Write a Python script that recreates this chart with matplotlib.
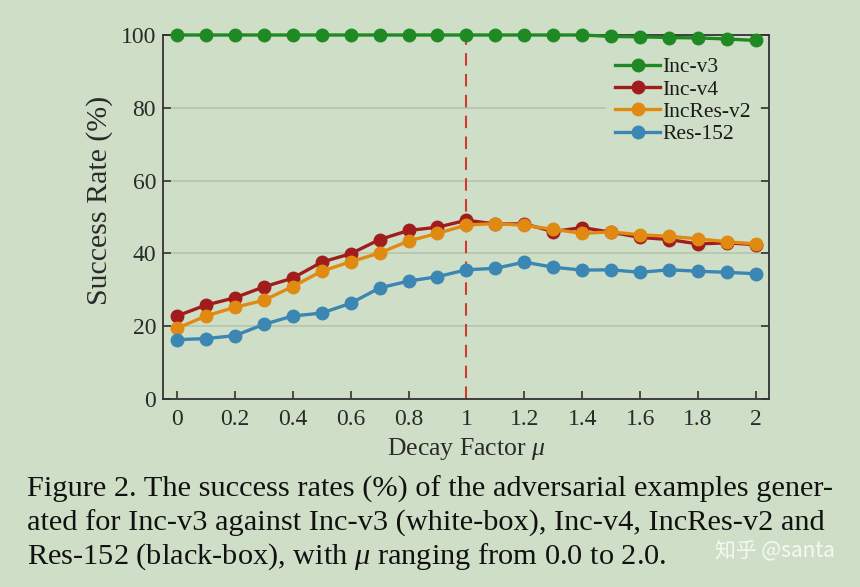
import matplotlib
matplotlib.use("Agg")
import matplotlib.pyplot as plt
import numpy as np

mu = [0.0, 0.1, 0.2, 0.3, 0.4, 0.5, 0.6, 0.7, 0.8, 0.9, 1.0,
      1.1, 1.2, 1.3, 1.4, 1.5, 1.6, 1.7, 1.8, 1.9, 2.0]
inc_v3 = [100.0, 100.0, 100.0, 100.0, 100.0, 100.0, 100.0, 100.0, 100.0, 100.0, 100.0,
          100.0, 100.0, 100.0, 100.0, 99.6, 99.5, 99.3, 99.2, 98.9, 98.5]
inc_v4 = [22.8, 25.8, 27.8, 30.8, 33.2, 37.6, 39.9, 43.8, 46.3, 47.2, 49.1,
          48.1, 48.1, 46.0, 47.1, 45.8, 44.4, 43.8, 42.6, 42.9, 42.4]
incres_v2 = [19.4, 22.8, 25.2, 27.1, 30.9, 35.1, 37.7, 40.1, 43.4, 45.5, 47.8,
             48.2, 47.7, 46.6, 45.5, 45.9, 45.1, 44.7, 44.0, 43.2, 42.6]
res_152 = [16.3, 16.6, 17.4, 20.5, 22.8, 23.6, 26.3, 30.5, 32.4, 33.6, 35.5,
           35.9, 37.6, 36.2, 35.4, 35.5, 34.8, 35.5, 35.1, 34.8, 34.4]
series_names = ["Inc-v3", "Inc-v4", "IncRes-v2", "Res-152"]
series_colors = ["#1f8a24", "#a11d1d", "#e08a12", "#3b86b2"]
xticks = [0, 0.2, 0.4, 0.6, 0.8, 1, 1.2, 1.4, 1.6, 1.8, 2]
xtick_labels = ["0", "0.2", "0.4", "0.6", "0.8", "1", "1.2", "1.4", "1.6", "1.8", "2"]
yticks = [0, 20, 40, 60, 80, 100]

bg = "#cfdfc7"
serif = ["Liberation Serif", "DejaVu Serif"]
plt.rcParams["font.family"] = serif
plt.rcParams["mathtext.fontset"] = "custom"
plt.rcParams["mathtext.it"] = "Liberation Serif:italic"
plt.rcParams["mathtext.rm"] = "Liberation Serif"

fig = plt.figure(figsize=(8.6, 5.87), dpi=100, facecolor=bg)
ax = fig.add_axes([163/860, 1-399/587, (769-163)/860, (399-35)/587])
ax.set_facecolor(bg)

for name, vals, c in zip(series_names, [inc_v3, inc_v4, incres_v2, res_152], series_colors):
    ax.plot(mu, vals, color=c, lw=2.4, marker="o", ms=9, label=name, zorder=3, clip_on=False)

ax.axvline(1.0, color="#d03a30", lw=1.5, ls=(0, (6, 4)), zorder=2)

ax.set_xlim(-0.048, 2.045)
ax.set_ylim(0, 100)
ax.set_xticks(xticks)
ax.set_xticklabels(xtick_labels)
ax.set_yticks(yticks)
ax.yaxis.grid(True, color="#b4c4ae", lw=1.2)
ax.set_axisbelow(True)
ax.tick_params(direction="in", length=6, width=1.2, color="#333333", labelsize=17,
               labelcolor="#2a2a2a", left=True, right=True, top=False, bottom=True)
ax.tick_params(axis="y", pad=5)
ax.tick_params(axis="x", pad=7)
for s in ax.spines.values():
    s.set_color("#333333")
    s.set_linewidth(1.3)

ax.set_xlabel(r"Decay Factor $\mu$", fontsize=18.5, color="#2a2a2a")
ax.xaxis.set_label_coords((466-163)/606, -(449-399)/364)
ax.set_ylabel("Success Rate (%)", fontsize=21.5, color="#2a2a2a")
ax.yaxis.set_label_coords(-(163-100)/606, (399-200)/364)
ax.xaxis.label.set_va("center")
ax.yaxis.label.set_va("center")

leg = ax.legend(loc="upper right", bbox_to_anchor=(0.995, 0.98), frameon=True, fontsize=15.5,
                handlelength=2.1, handletextpad=0.1, labelspacing=0.1, borderaxespad=0.3)
leg.get_frame().set_facecolor(bg)
leg.get_frame().set_edgecolor("none")
leg.get_frame().set_alpha(1)
for t in leg.get_texts():
    t.set_color("#1a1a1a")

caption = ["Figure 2. The success rates (%) of the adversarial examples gener-",
           "ated for Inc-v3 against Inc-v3 (white-box), Inc-v4, IncRes-v2 and",
           r"Res-152 (black-box), with $\mu$ ranging from 0.0 to 2.0."]
for i, line in enumerate(caption):
    fig.text(27/860, 1-(489+34*i)/587, line, fontsize=21.9, color="#111111",
             va="center", ha="left")

fig.text(835/860, 1-550/587, "知乎 @santa", fontsize=15, color="white", alpha=0.8,
         ha="right", va="center", family=["Noto Sans CJK SC", "DejaVu Sans"])

fig.savefig("out.png", dpi=100, facecolor=bg)
